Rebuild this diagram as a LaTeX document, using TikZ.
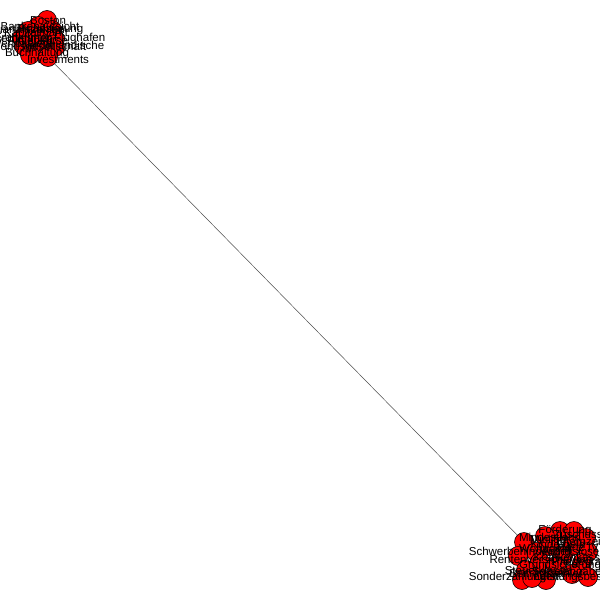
\documentclass[tikz,border=0pt]{standalone}
\usepackage{fontspec}
\setmainfont{Liberation Sans}
\begin{document}
\begin{tikzpicture}[x=1pt,y=-1pt,
  vtx/.style={circle,fill=red,draw=black,line width=0.6pt,minimum size=19pt,inner sep=0pt},
  lbl/.style={font=\fontsize{11.5}{11.5}\selectfont,text=black,inner sep=0pt},
  edge/.style={draw=black!70,line width=0.5pt}]
\useasboundingbox (0,0) rectangle (600,600);
% connector
\coordinate (ca) at (50,56);
\coordinate (cb) at (524,542);
% top-left cluster
\node[vtx] (t1) at (47,20) {};
\node[vtx] (t12) at (38,26) {};
\node[vtx] (t9) at (28,31) {};
\node[vtx] (t7) at (22,38) {};
\node[vtx] (t2) at (52,30) {};
\node[vtx] (t3) at (55,39) {};
\node[vtx] (t10) at (38,40) {};
\node[vtx] (t8) at (24,46) {};
\node[vtx] (t4) at (55,47) {};
\node[vtx] (t11) at (42,50) {};
\node[vtx] (t5) at (30,55) {};
\node[vtx] (t6) at (48,57) {};
\draw[edge] (t6) -- (cb);
\node[lbl] at (48,21) {Boston};
\node[lbl] at (26,30) {Quartalszahlen};
\node[lbl] at (50,30) {Finanzierung};
\node[lbl] at (18,38) {Unternehmen};
\node[lbl] at (50,39) {Frankfurter Flughafen};
\node[lbl] at (22,45) {Wertpapiere};
\node[lbl] at (63,45) {Niederländische};
\node[lbl] at (t10) {Aktienkurse};
\node[lbl] at (40,48) {Fondsgesellschaft};
\node[lbl] at (40,26) {Bankenaufsicht};
\node[lbl] at (36,34) {Kapitalmarkt};
\node[lbl] at (37,54) {Buchhaltung};
\node[lbl] at (58,60) {Investments};
% bottom-right cluster
\node[vtx] (b2) at (560,531) {};
\node[vtx] (b3) at (574,531) {};
\node[vtx] (b1) at (545,536) {};
\node[vtx] (b4) at (586,538) {};
\node[vtx] (b20) at (524,542) {};
\node[vtx] (b10) at (550,546) {};
\node[vtx] (b19) at (572,546) {};
\node[vtx] (b16) at (588,552) {};
\node[vtx] (b18) at (536,552) {};
\node[vtx] (b5) at (518,556) {};
\node[vtx] (b11) at (563,556) {};
\node[vtx] (b6) at (540,562) {};
\node[vtx] (b12) at (582,563) {};
\node[vtx] (b17) at (556,566) {};
\node[vtx] (b7) at (526,570) {};
\node[vtx] (b15) at (572,574) {};
\node[vtx] (b9) at (588,577) {};
\node[vtx] (b14) at (522,580) {};
\node[vtx] (b13) at (546,580) {};
\node[vtx] (b8) at (532,578) {};
\node[lbl] at (565,531) {Förderung};
\node[lbl] at (578,534) {Zuschuss};
\node[lbl] at (550,537) {Mindestlohn};
\node[lbl] at (580,541) {Elternzeit};
\node[lbl] at (548,541) {Minijob};
\node[lbl] at (558,546) {Kindergeld};
\node[lbl] at (578,548) {Hartz IV};
\node[lbl] at (585,553) {Arbeitslosengeld};
\node[lbl] at (545,550) {Wohngeld};
\node[lbl] at (520,553) {Schwerbehinderung};
\node[lbl] at (570,557) {Krankenkasse};
\node[lbl] at (541,561) {Rentenversicherung};
\node[lbl] at (580,563) {Pflegegrad};
\node[lbl] at (560,566) {Grundsicherung};
\node[lbl] at (538,570) {Steuerklasse};
\node[lbl] at (570,573) {Sozialabgaben};
\node[lbl] at (582,578) {Leistungsbescheid};
\node[lbl] at (546,575) {Beitragszahler};
\node[lbl] at (514,578) {Sonderzahlungen};
\end{tikzpicture}
\end{document}
